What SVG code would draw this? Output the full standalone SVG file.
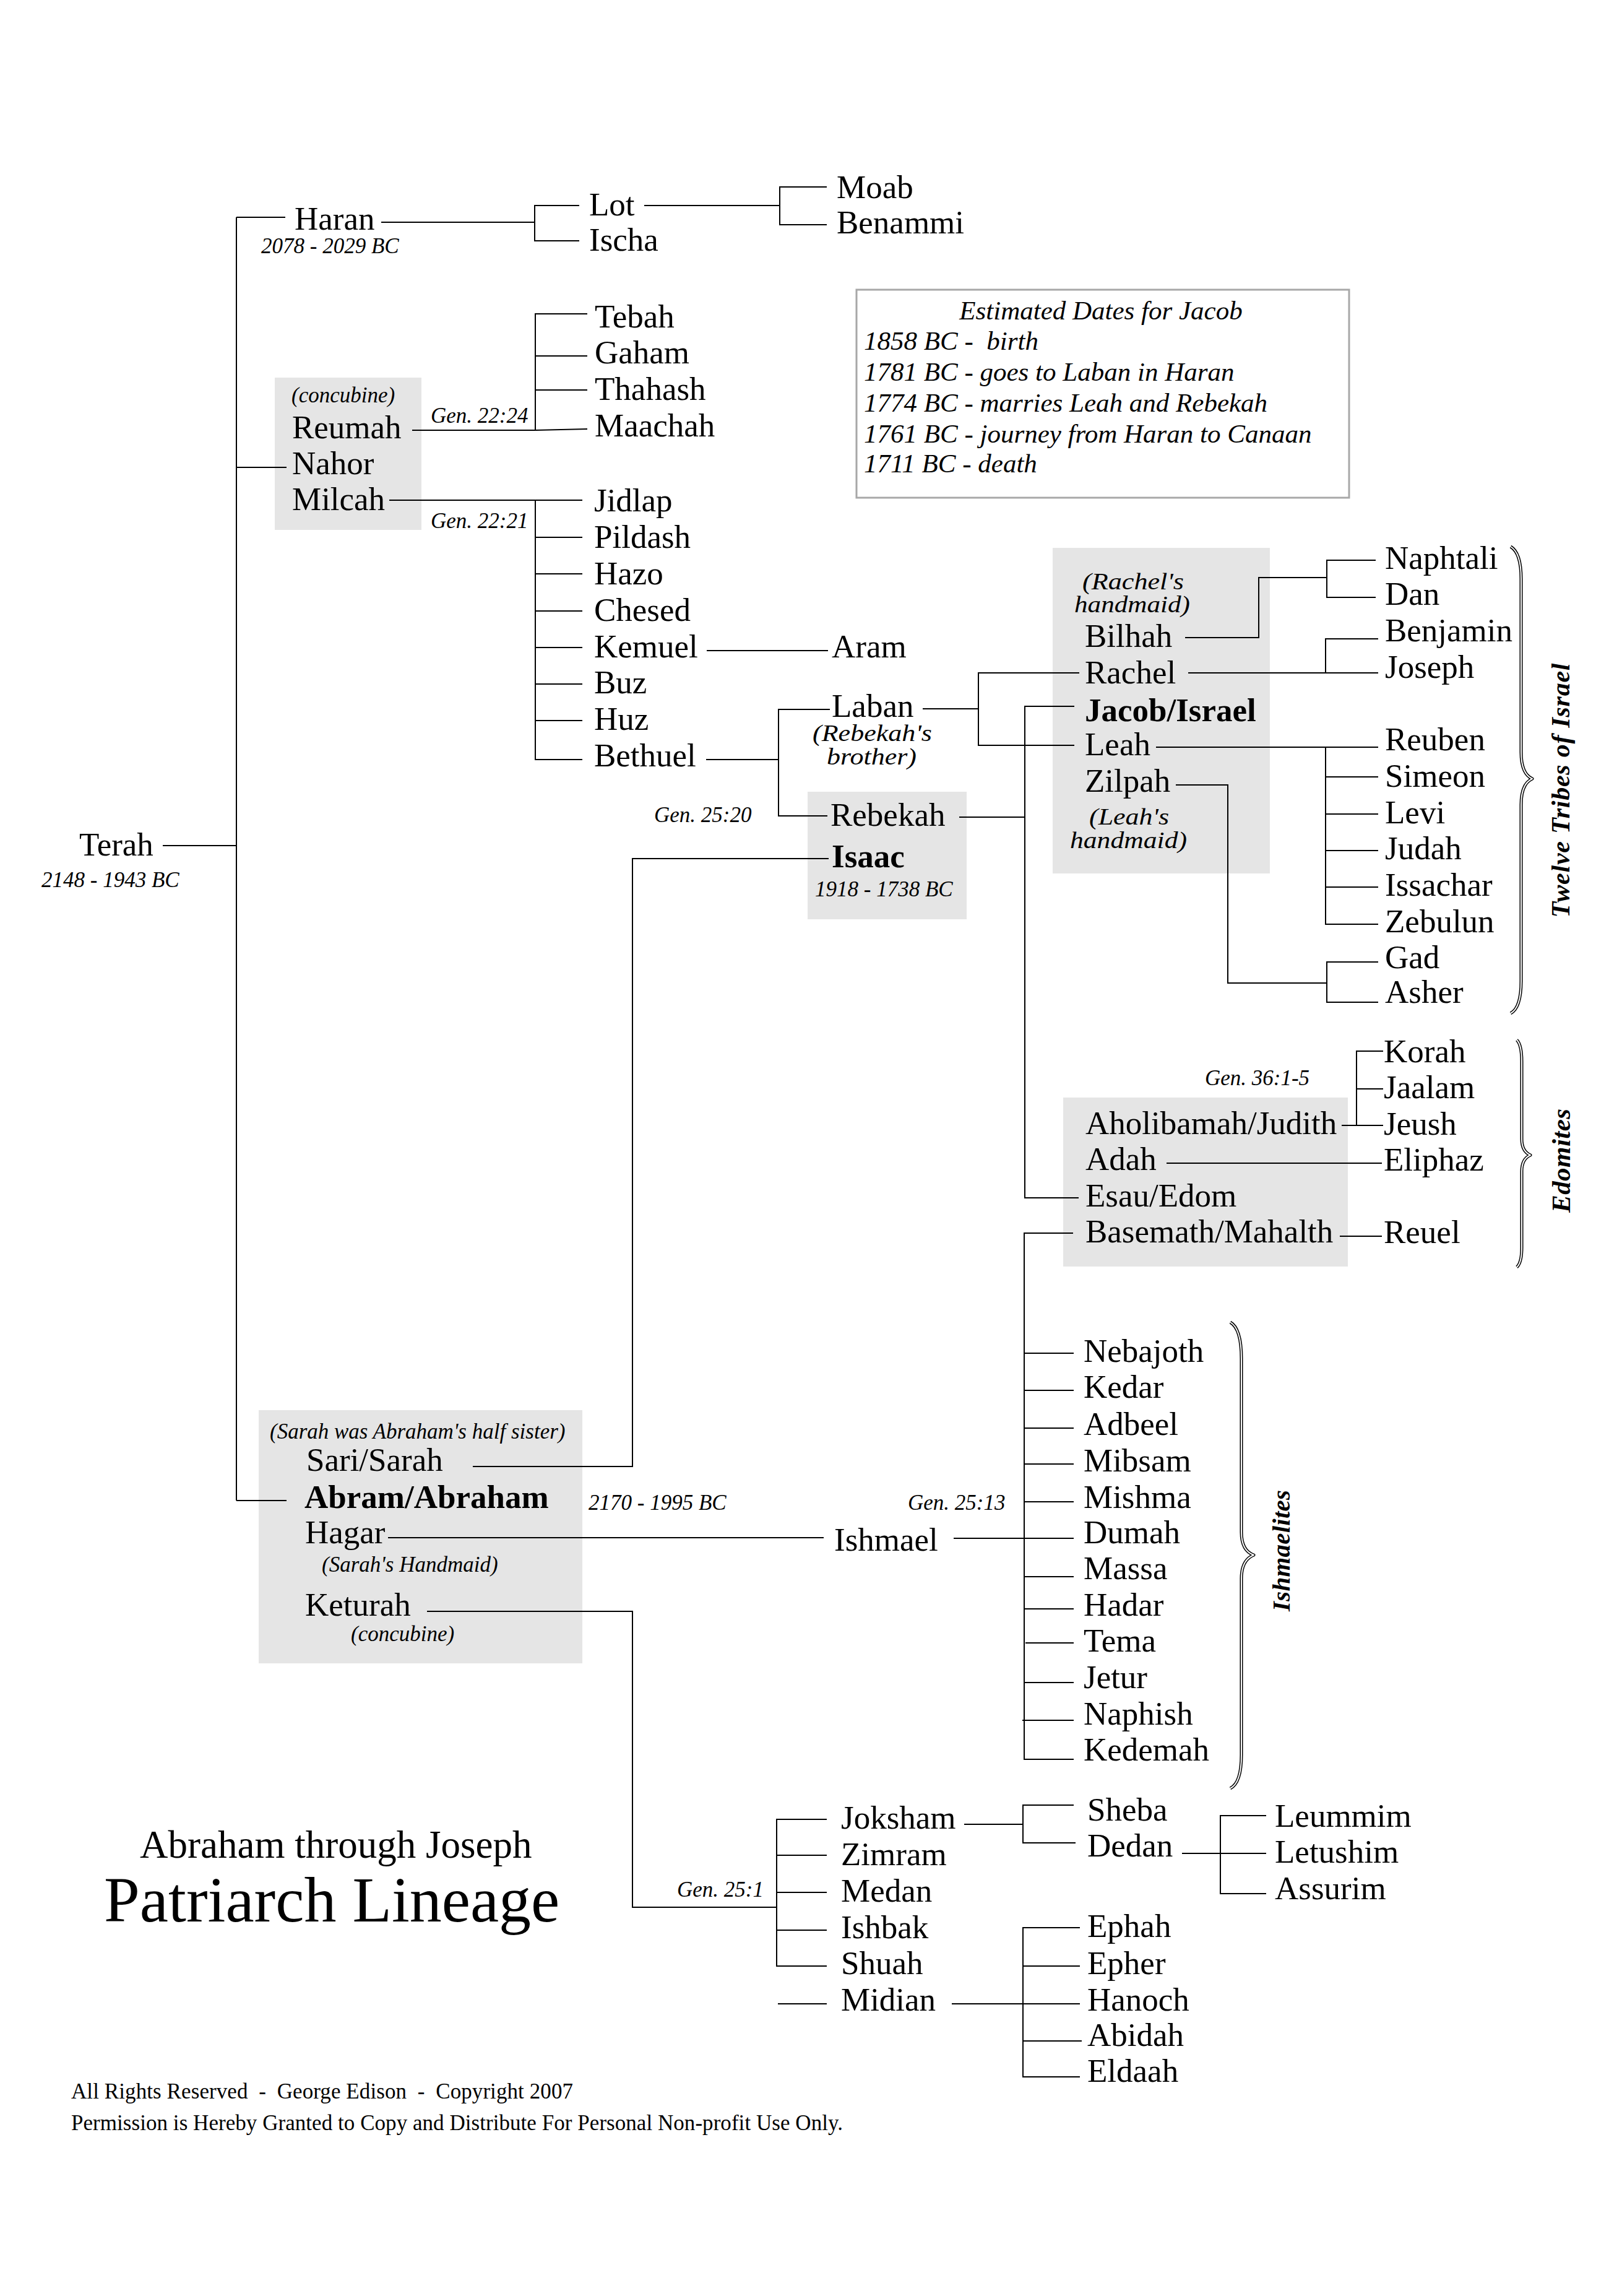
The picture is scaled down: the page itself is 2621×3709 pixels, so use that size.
<svg xmlns="http://www.w3.org/2000/svg" width="2621" height="3709" viewBox="0 0 2621 3709">
<style>
text{font-family:"Liberation Serif","Times New Roman",serif;fill:#000}
.n{font-size:53px}
.nb{font-size:53px;font-weight:bold}
.i{font-size:35px;font-style:italic}
.i43{font-size:43px;font-style:italic}
.hm{font-size:37px;font-style:italic}
.ft{font-size:35px}
.rot{font-weight:bold;font-style:italic;text-anchor:middle}
.box{fill:#e5e5e5;stroke:none}
#connectors line,#connectors polyline{stroke:#000;stroke-width:2;fill:none}
.brace-o{fill:none;stroke:#000;stroke-width:5;stroke-linejoin:round}
.brace-i{fill:none;stroke:#fff;stroke-width:2;stroke-linejoin:round}
</style>
<rect width="2621" height="3709" fill="#fff"/>

<!-- couple boxes -->
<g id="couple-nahor"><rect class="box" x="444" y="610" width="237" height="246"/></g>
<g id="couple-isaac"><rect class="box" x="1305" y="1279" width="257" height="206"/></g>
<g id="couple-jacob"><rect class="box" x="1701" y="885" width="351" height="526"/></g>
<g id="couple-esau"><rect class="box" x="1718" y="1773" width="460" height="273"/></g>
<g id="couple-abraham"><rect class="box" x="418" y="2278" width="523" height="409"/></g>

<!-- Jacob dates box -->
<g id="jacob-dates">
<rect x="1384" y="468" width="796" height="336" fill="none" stroke="#a8a8a8" stroke-width="3"/>
<text class="i43" x="1779" y="516" text-anchor="middle">Estimated Dates for Jacob</text>
<text class="i43" x="1396" y="565" xml:space="preserve">1858 BC -  birth</text>
<text class="i43" x="1396" y="615">1781 BC - goes to Laban in Haran</text>
<text class="i43" x="1396" y="665">1774 BC - marries Leah and Rebekah</text>
<text class="i43" x="1396" y="715">1761 BC - journey from Haran to Canaan</text>
<text class="i43" x="1396" y="763">1711 BC - death</text>
</g>

<!-- connectors -->
<g id="connectors">
<line x1="263" y1="1366" x2="382" y2="1366"/>
<line x1="382" y1="351" x2="382" y2="2424"/>
<line x1="382" y1="351" x2="461" y2="351"/>
<line x1="382" y1="755" x2="463" y2="755"/>
<line x1="382" y1="2424" x2="463" y2="2424"/>
<!-- Haran -->
<line x1="616" y1="359" x2="864" y2="359"/>
<polyline points="936,332 864,332 864,389 936,389"/>
<line x1="1041" y1="332" x2="1260" y2="332"/>
<polyline points="1336,302 1260,302 1260,363 1336,363"/>
<!-- Reumah -->
<line x1="666" y1="695" x2="865" y2="695"/>
<polyline points="949,507 865,507 865,695 949,693"/>
<line x1="865" y1="575" x2="949" y2="575"/>
<line x1="865" y1="630" x2="949" y2="630"/>
<!-- Milcah -->
<line x1="629" y1="808" x2="941" y2="808"/>
<polyline points="865,808 865,1227 941,1227"/>
<line x1="865" y1="868" x2="941" y2="868"/>
<line x1="865" y1="927" x2="941" y2="927"/>
<line x1="865" y1="987" x2="941" y2="987"/>
<line x1="865" y1="1046" x2="941" y2="1046"/>
<line x1="865" y1="1105" x2="941" y2="1105"/>
<line x1="865" y1="1164" x2="941" y2="1164"/>
<!-- Kemuel -> Aram -->
<line x1="1142" y1="1051" x2="1338" y2="1051"/>
<!-- Bethuel -->
<line x1="1141" y1="1227" x2="1258" y2="1227"/>
<polyline points="1341,1146 1258,1146 1258,1318 1337,1318"/>
<!-- Laban -->
<line x1="1491" y1="1145" x2="1581" y2="1145"/>
<polyline points="1744,1087 1581,1087 1581,1204 1736,1204"/>
<!-- Rebekah / Jacob / Esau -->
<line x1="1550" y1="1320" x2="1656" y2="1320"/>
<polyline points="1736,1141 1656,1141 1656,1935 1743,1935"/>
<!-- Isaac / Sarah -->
<polyline points="1339,1387 1022,1387 1022,2369 764,2369"/>
<!-- Bilhah -->
<polyline points="1915,1030 2034,1030 2034,933 2144,933"/>
<polyline points="2223,905 2144,905 2144,965 2223,965"/>
<!-- Rachel -->
<line x1="1920" y1="1087" x2="2227" y2="1087"/>
<polyline points="2227,1032 2142,1032 2142,1087"/>
<!-- Leah -->
<line x1="1868" y1="1207" x2="2227" y2="1207"/>
<polyline points="2142,1207 2142,1493 2227,1493"/>
<line x1="2142" y1="1255" x2="2227" y2="1255"/>
<line x1="2142" y1="1315" x2="2227" y2="1315"/>
<line x1="2142" y1="1374" x2="2227" y2="1374"/>
<line x1="2142" y1="1433" x2="2227" y2="1433"/>
<!-- Zilpah -->
<polyline points="1900,1268 1984,1268 1984,1588 2144,1588"/>
<polyline points="2227,1554 2144,1554 2144,1619 2227,1619"/>
<!-- Esau wives -->
<line x1="2168" y1="1818" x2="2235" y2="1818"/>
<polyline points="2235,1698 2192,1698 2192,1818"/>
<line x1="2192" y1="1759" x2="2235" y2="1759"/>
<line x1="1885" y1="1879" x2="2233" y2="1879"/>
<line x1="2165" y1="1997" x2="2233" y2="1997"/>
<!-- Basemath / Ishmaelites -->
<polyline points="1734,1992 1655,1992 1655,2842 1735,2842"/>
<line x1="1655" y1="2186" x2="1735" y2="2186"/>
<line x1="1655" y1="2246" x2="1735" y2="2246"/>
<line x1="1655" y1="2307" x2="1735" y2="2307"/>
<line x1="1655" y1="2365" x2="1735" y2="2365"/>
<line x1="1655" y1="2426" x2="1735" y2="2426"/>
<line x1="1655" y1="2485" x2="1735" y2="2485"/>
<line x1="1655" y1="2547" x2="1735" y2="2547"/>
<line x1="1655" y1="2599" x2="1735" y2="2599"/>
<line x1="1657" y1="2654" x2="1735" y2="2654"/>
<line x1="1655" y1="2718" x2="1735" y2="2718"/>
<line x1="1652" y1="2779" x2="1735" y2="2779"/>
<line x1="1541" y1="2485" x2="1655" y2="2485"/>
<!-- Hagar -> Ishmael -->
<line x1="627" y1="2484" x2="1331" y2="2484"/>
<!-- Keturah -->
<polyline points="690,2603 1022,2603 1022,3081 1255,3081"/>
<polyline points="1336,2939 1255,2939 1255,3176 1336,3176"/>
<line x1="1255" y1="2997" x2="1336" y2="2997"/>
<line x1="1255" y1="3057" x2="1336" y2="3057"/>
<line x1="1255" y1="3118" x2="1336" y2="3118"/>
<line x1="1257" y1="3237" x2="1336" y2="3237"/>
<!-- Joksham -->
<line x1="1558" y1="2947" x2="1653" y2="2947"/>
<polyline points="1735,2916 1653,2916 1653,2977 1738,2977"/>
<!-- Dedan -->
<line x1="1910" y1="2994" x2="2046" y2="2994"/>
<polyline points="2046,2933 1972,2933 1972,3059 2046,3059"/>
<!-- Midian -->
<line x1="1538" y1="3237" x2="1745" y2="3237"/>
<polyline points="1745,3114 1653,3114 1653,3355 1745,3355"/>
<line x1="1653" y1="3176" x2="1745" y2="3176"/>
<line x1="1653" y1="3297" x2="1748" y2="3297"/>
</g>

<!-- braces -->
<g id="brace-twelve-tribes">
<path class="brace-o" d="M2441,883 Q2458,893 2458,935 L2458,1215 Q2458,1250 2476,1258 Q2458,1266 2458,1300 L2458,1585 Q2458,1628 2441,1637"/>
<path class="brace-i" d="M2441,883 Q2458,893 2458,935 L2458,1215 Q2458,1250 2476,1258 Q2458,1266 2458,1300 L2458,1585 Q2458,1628 2441,1637"/>
<text class="rot" font-size="42" transform="translate(2536,1277) rotate(-90)" textLength="411" lengthAdjust="spacing">Twelve Tribes of Israel</text>
</g>
<g id="brace-edomites">
<path class="brace-o" d="M2451,1680 Q2459,1688 2459,1715 L2459,1840 Q2459,1860 2473,1866 Q2459,1872 2459,1892 L2459,2015 Q2459,2040 2451,2047"/>
<path class="brace-i" d="M2451,1680 Q2459,1688 2459,1715 L2459,1840 Q2459,1860 2473,1866 Q2459,1872 2459,1892 L2459,2015 Q2459,2040 2451,2047"/>
<text class="rot" font-size="43" transform="translate(2537,1875) rotate(-90)" textLength="168" lengthAdjust="spacing">Edomites</text>
</g>
<g id="brace-ishmaelites">
<path class="brace-o" d="M1988,2136 Q2006,2146 2006,2195 L2006,2475 Q2006,2505 2026,2512 Q2006,2520 2006,2550 L2006,2835 Q2006,2880 1988,2889"/>
<path class="brace-i" d="M1988,2136 Q2006,2146 2006,2195 L2006,2475 Q2006,2505 2026,2512 Q2006,2520 2006,2550 L2006,2835 Q2006,2880 1988,2889"/>
<text class="rot" font-size="41" transform="translate(2084,2505) rotate(-90)" textLength="196" lengthAdjust="spacing">Ishmaelites</text>
</g>

<!-- nodes -->
<g id="terah"><text class="n" x="128" y="1382">Terah</text><text class="i" x="67" y="1433">2148 - 1943 BC</text></g>
<g id="haran"><text class="n" x="476" y="371">Haran</text><text class="i" x="422" y="409">2078 - 2029 BC</text></g>
<g id="lot"><text class="n" x="952" y="348">Lot</text></g>
<g id="ischa"><text class="n" x="952" y="405">Ischa</text></g>
<g id="moab"><text class="n" x="1352" y="320">Moab</text></g>
<g id="benammi"><text class="n" x="1352" y="377">Benammi</text></g>

<g id="reumah"><text class="i" x="471" y="650">(concubine)</text><text class="n" x="472" y="708">Reumah</text></g>
<g id="nahor"><text class="n" x="472" y="766">Nahor</text></g>
<g id="milcah"><text class="n" x="472" y="824">Milcah</text></g>
<g id="ref-gen-22-24"><text class="i" x="696" y="683">Gen. 22:24</text></g>
<g id="ref-gen-22-21"><text class="i" x="696" y="853">Gen. 22:21</text></g>

<g id="tebah"><text class="n" x="961" y="529">Tebah</text></g>
<g id="gaham"><text class="n" x="961" y="587">Gaham</text></g>
<g id="thahash"><text class="n" x="961" y="646">Thahash</text></g>
<g id="maachah"><text class="n" x="961" y="705">Maachah</text></g>

<g id="jidlap"><text class="n" x="960" y="826">Jidlap</text></g>
<g id="pildash"><text class="n" x="960" y="885">Pildash</text></g>
<g id="hazo"><text class="n" x="960" y="944">Hazo</text></g>
<g id="chesed"><text class="n" x="960" y="1003">Chesed</text></g>
<g id="kemuel"><text class="n" x="960" y="1062">Kemuel</text></g>
<g id="buz"><text class="n" x="960" y="1120">Buz</text></g>
<g id="huz"><text class="n" x="960" y="1179">Huz</text></g>
<g id="bethuel"><text class="n" x="960" y="1238">Bethuel</text></g>
<g id="aram"><text class="n" x="1344" y="1062">Aram</text></g>

<g id="laban"><text class="n" x="1344" y="1158">Laban</text><text class="hm" x="1313" y="1197" textLength="193" lengthAdjust="spacingAndGlyphs">(Rebekah's</text><text class="hm" x="1336" y="1235" textLength="145" lengthAdjust="spacingAndGlyphs">brother)</text></g>
<g id="ref-gen-25-20"><text class="i" x="1057" y="1328">Gen. 25:20</text></g>
<g id="rebekah"><text class="n" x="1342" y="1334">Rebekah</text></g>
<g id="isaac"><text class="nb" x="1344" y="1401">Isaac</text><text class="i" x="1317" y="1448">1918 - 1738 BC</text></g>

<g id="bilhah"><text class="hm" x="1749" y="952" textLength="164" lengthAdjust="spacingAndGlyphs">(Rachel's</text><text class="hm" x="1736" y="989" textLength="187" lengthAdjust="spacingAndGlyphs">handmaid)</text><text class="n" x="1753" y="1045">Bilhah</text></g>
<g id="rachel"><text class="n" x="1753" y="1104">Rachel</text></g>
<g id="jacob"><text class="nb" x="1753" y="1165">Jacob/Israel</text></g>
<g id="leah"><text class="n" x="1753" y="1220">Leah</text></g>
<g id="zilpah"><text class="n" x="1753" y="1279">Zilpah</text><text class="hm" x="1760" y="1332" textLength="129" lengthAdjust="spacingAndGlyphs">(Leah's</text><text class="hm" x="1729" y="1370" textLength="189" lengthAdjust="spacingAndGlyphs">handmaid)</text></g>

<g id="naphtali"><text class="n" x="2238" y="919">Naphtali</text></g>
<g id="dan"><text class="n" x="2238" y="977">Dan</text></g>
<g id="benjamin"><text class="n" x="2238" y="1036">Benjamin</text></g>
<g id="joseph"><text class="n" x="2238" y="1095">Joseph</text></g>
<g id="reuben"><text class="n" x="2238" y="1212">Reuben</text></g>
<g id="simeon"><text class="n" x="2238" y="1271">Simeon</text></g>
<g id="levi"><text class="n" x="2238" y="1330">Levi</text></g>
<g id="judah"><text class="n" x="2238" y="1388">Judah</text></g>
<g id="issachar"><text class="n" x="2238" y="1447">Issachar</text></g>
<g id="zebulun"><text class="n" x="2238" y="1506">Zebulun</text></g>
<g id="gad"><text class="n" x="2238" y="1564">Gad</text></g>
<g id="asher"><text class="n" x="2238" y="1620">Asher</text></g>

<g id="ref-gen-36"><text class="i" x="1947" y="1753">Gen. 36:1-5</text></g>
<g id="aholibamah"><text class="n" x="1754" y="1832">Aholibamah/Judith</text></g>
<g id="adah"><text class="n" x="1754" y="1890">Adah</text></g>
<g id="esau"><text class="n" x="1754" y="1949">Esau/Edom</text></g>
<g id="basemath"><text class="n" x="1754" y="2007">Basemath/Mahalth</text></g>
<g id="korah"><text class="n" x="2236" y="1716">Korah</text></g>
<g id="jaalam"><text class="n" x="2236" y="1774">Jaalam</text></g>
<g id="jeush"><text class="n" x="2236" y="1833">Jeush</text></g>
<g id="eliphaz"><text class="n" x="2236" y="1891">Eliphaz</text></g>
<g id="reuel"><text class="n" x="2236" y="2008">Reuel</text></g>

<g id="nebajoth"><text class="n" x="1751" y="2200">Nebajoth</text></g>
<g id="kedar"><text class="n" x="1751" y="2258">Kedar</text></g>
<g id="adbeel"><text class="n" x="1751" y="2318">Adbeel</text></g>
<g id="mibsam"><text class="n" x="1751" y="2377">Mibsam</text></g>
<g id="mishma"><text class="n" x="1751" y="2436">Mishma</text></g>
<g id="dumah"><text class="n" x="1751" y="2493">Dumah</text></g>
<g id="massa"><text class="n" x="1751" y="2551">Massa</text></g>
<g id="hadar"><text class="n" x="1751" y="2610">Hadar</text></g>
<g id="tema"><text class="n" x="1751" y="2668">Tema</text></g>
<g id="jetur"><text class="n" x="1751" y="2727">Jetur</text></g>
<g id="naphish"><text class="n" x="1751" y="2786">Naphish</text></g>
<g id="kedemah"><text class="n" x="1751" y="2844">Kedemah</text></g>

<g id="sarah"><text class="i" x="436" y="2324">(Sarah was Abraham's half sister)</text><text class="n" x="495" y="2376">Sari/Sarah</text></g>
<g id="abraham"><text class="nb" x="492" y="2436">Abram/Abraham</text><text class="i" x="951" y="2439">2170 - 1995 BC</text></g>
<g id="hagar"><text class="n" x="493" y="2493">Hagar</text><text class="i" x="520" y="2539">(Sarah's Handmaid)</text></g>
<g id="keturah"><text class="n" x="493" y="2610">Keturah</text><text class="i" x="567" y="2651">(concubine)</text></g>
<g id="ref-gen-25-13"><text class="i" x="1467" y="2439">Gen. 25:13</text></g>
<g id="ishmael"><text class="n" x="1348" y="2505">Ishmael</text></g>

<g id="ref-gen-25-1"><text class="i" x="1094" y="3064">Gen. 25:1</text></g>
<g id="joksham"><text class="n" x="1359" y="2954">Joksham</text></g>
<g id="zimram"><text class="n" x="1359" y="3013">Zimram</text></g>
<g id="medan"><text class="n" x="1359" y="3072">Medan</text></g>
<g id="ishbak"><text class="n" x="1359" y="3131">Ishbak</text></g>
<g id="shuah"><text class="n" x="1359" y="3189">Shuah</text></g>
<g id="midian"><text class="n" x="1359" y="3248">Midian</text></g>
<g id="sheba"><text class="n" x="1757" y="2941">Sheba</text></g>
<g id="dedan"><text class="n" x="1757" y="2999">Dedan</text></g>
<g id="leummim"><text class="n" x="2060" y="2951">Leummim</text></g>
<g id="letushim"><text class="n" x="2060" y="3009">Letushim</text></g>
<g id="assurim"><text class="n" x="2060" y="3068">Assurim</text></g>
<g id="ephah"><text class="n" x="1757" y="3129">Ephah</text></g>
<g id="epher"><text class="n" x="1757" y="3189">Epher</text></g>
<g id="hanoch"><text class="n" x="1757" y="3248">Hanoch</text></g>
<g id="abidah"><text class="n" x="1757" y="3305">Abidah</text></g>
<g id="eldaah"><text class="n" x="1757" y="3363">Eldaah</text></g>

<g id="title">
<text x="226" y="3001" font-size="63">Abraham through Joseph</text>
<text x="168" y="3104" font-size="104">Patriarch Lineage</text>
</g>
<g id="footer">
<text class="ft" x="115" y="3390" xml:space="preserve" textLength="811" lengthAdjust="spacing">All Rights Reserved  -  George Edison  -  Copyright 2007</text>
<text class="ft" x="115" y="3441" textLength="1247" lengthAdjust="spacing">Permission is Hereby Granted to Copy and Distribute For Personal Non-profit Use Only.</text>
</g>
</svg>
